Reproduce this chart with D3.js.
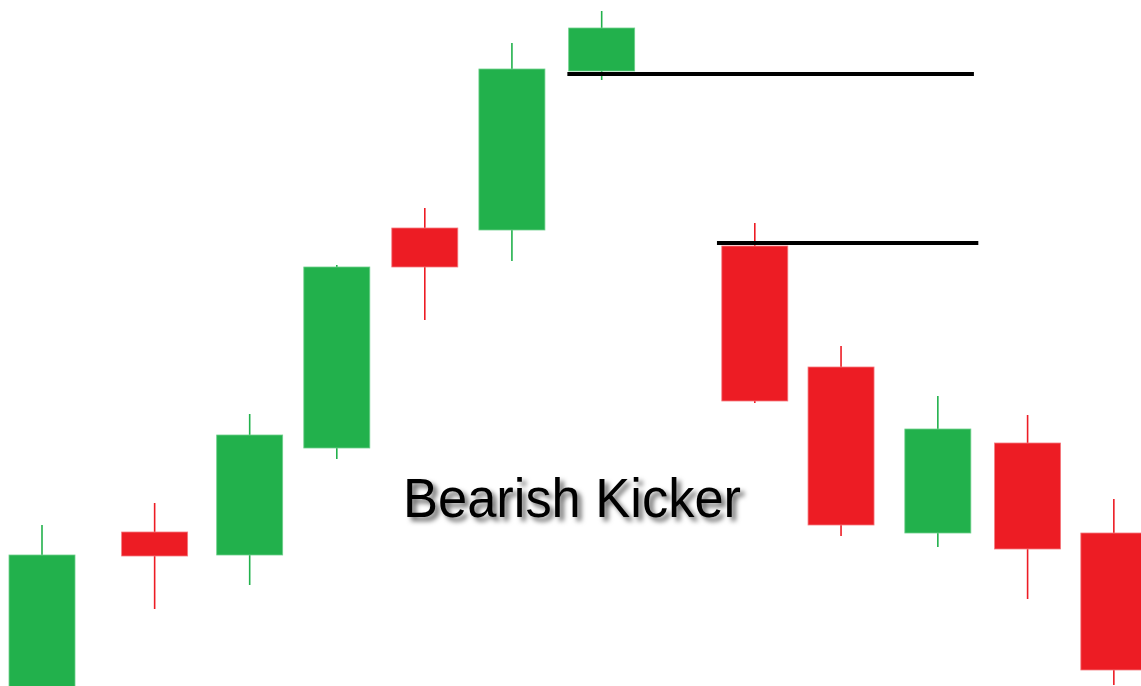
<!DOCTYPE html>
<html>
<head>
<meta charset="utf-8">
<script src="https://cdn.jsdelivr.net/npm/d3@7"></script>
<style>
  html, body { margin: 0; padding: 0; background: #fff; overflow: hidden; }
  svg { display: block; }
</style>
</head>
<body>
<svg id="chart"></svg>
<script>
// session position of each candle (gap between 7 and 8 is the kick)
const sessions = [0, 1.28, 2.36, 3.35, 4.35, 5.34, 6.36, 8.1, 9.08, 10.18, 11.2, 12.18];
const opens  = [10.0, 26.8, 24.5, 35.2, 57.2, 57.0, 72.9, 55.4, 43.3, 26.7, 35.7, 26.7];
const highs  = [27.5, 29.7, 38.6, 53.5, 59.2, 75.7, 78.9, 57.7, 45.4, 40.4, 38.5, 30.1];
const lows   = [ 9.0, 19.1, 21.5, 34.1, 48.0, 53.9, 72.0, 39.7, 26.4, 25.3, 20.1, 11.5];
const closes = [24.5, 24.4, 36.5, 53.3, 53.3, 73.1, 77.2, 39.9, 27.5, 37.1, 25.1, 13.0];

// horizontal reference levels: price, start session, end session
const levelPrices = [72.6, 55.7];
const levelFrom   = [5.97, 7.67];
const levelTo     = [10.59, 10.64];

const title = 'Bearish Kicker';

const width = 1141, height = 686;
const bodyWidth = 66;
const up = '#22b14c', down = '#ed1c24';

const svg = d3.select('#chart')
  .attr('width', width)
  .attr('height', height);

const x = d3.scaleLinear().domain([0, 1]).range([42, 130]);
const y = d3.scaleLinear().domain([11.4, 80]).range([686, 0]);

const candles = sessions.map((t, i) => ({
  t: t, open: opens[i], high: highs[i], low: lows[i], close: closes[i]
}));

const defs = svg.append('defs');
defs.append('filter')
  .attr('id', 'shadow')
  .attr('x', '-10%').attr('y', '-30%')
  .attr('width', '130%').attr('height', '170%')
  .append('feDropShadow')
  .attr('dx', 4).attr('dy', 4)
  .attr('stdDeviation', 2.8)
  .attr('flood-color', '#000')
  .attr('flood-opacity', 0.6);

const g = svg.selectAll('.candle')
  .data(candles)
  .enter()
  .append('g')
  .attr('class', 'candle');

g.append('line')
  .attr('x1', (d) => x(d.t))
  .attr('x2', (d) => x(d.t))
  .attr('y1', (d) => y(d.high))
  .attr('y2', (d) => y(d.low))
  .attr('stroke', (d) => d.close >= d.open ? up : down)
  .attr('stroke-width', 1.6);

g.append('rect')
  .attr('x', (d) => x(d.t) - bodyWidth / 2)
  .attr('y', (d) => y(Math.max(d.open, d.close)))
  .attr('width', bodyWidth)
  .attr('height', (d) => Math.abs(y(d.open) - y(d.close)))
  .attr('fill', (d) => d.close >= d.open ? up : down)
  .attr('stroke', (d) => d.close >= d.open ? '#6fd08c' : '#f47a7f')
  .attr('stroke-width', 0.8);

svg.selectAll('.level')
  .data(levelPrices)
  .enter()
  .append('line')
  .attr('class', 'level')
  .attr('x1', (d, i) => x(levelFrom[i]))
  .attr('x2', (d, i) => x(levelTo[i]))
  .attr('y1', (d) => y(d))
  .attr('y2', (d) => y(d))
  .attr('stroke', '#000')
  .attr('stroke-width', 4);

// title is a little condensed in the source image
svg.append('text')
  .attr('x', 403)
  .attr('y', 517)
  .attr('font-family', 'Liberation Sans, Arial, sans-serif')
  .attr('font-size', 55)
  .attr('textLength', 338)
  .attr('lengthAdjust', 'spacingAndGlyphs')
  .attr('fill', '#000')
  .attr('filter', 'url(#shadow)')
  .text(title);
</script>
</body>
</html>
